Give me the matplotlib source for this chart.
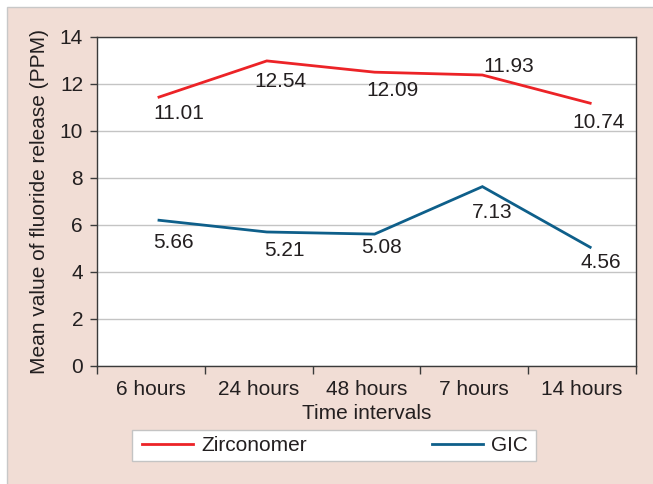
import matplotlib
matplotlib.use("Agg")
import matplotlib.pyplot as plt
from matplotlib.patches import Rectangle

plt.rcParams['font.family'] = ['Liberation Sans', 'DejaVu Sans']

categories = ["6 hours", "24 hours", "48 hours", "7 hours", "14 hours"]
zircon_values = [11.43, 12.97, 12.49, 12.37, 11.17]
gic_values = [6.19, 5.69, 5.60, 7.62, 5.04]
zircon_labels = ["11.01", "12.54", "12.09", "11.93", "10.74"]
gic_labels = ["5.66", "5.21", "5.08", "7.13", "4.56"]

# label offsets in pixels (dx, dy) relative to the points
zircon_offsets = [(20, -16), (14, -21), (18, -18), (26, 9), (8, -19)]
gic_offsets = [(14, -22), (18, -19), (7, -13), (10, -26), (11, -15)]

RED = "#ec2327"
BLUE = "#0e5f8a"
PINK = "#f1ddd5"
TXT = "#231f20"

fig = plt.figure(figsize=(6.53, 4.84), dpi=100)
fig.patch.set_facecolor("white")
bg = Rectangle((6.5 / 653, -0.01), 1.0, 1 - 6.5 / 484 + 0.01,
               transform=fig.transFigure, facecolor=PINK,
               edgecolor="#c8c8c8", linewidth=1.0, zorder=-10)
fig.patches.append(bg)

# legend frame
lf = Rectangle((131.5 / 653, 1 - 461 / 484), (536 - 131.5) / 653, 31 / 484,
               transform=fig.transFigure, facecolor="white",
               edgecolor="#c4c4c4", linewidth=1.0, zorder=-5)
fig.patches.append(lf)

ax = fig.add_axes([97 / 653, 1 - 365.7 / 484, (636 - 97) / 653, (365.7 - 36.7) / 484])
ax.set_zorder(1)
ax.set_facecolor("white")

n = len(categories)
shift = 0.075
xs = [i + 0.5 + shift for i in range(n)]

ax.plot(xs, zircon_values, color=RED, lw=2.0, solid_joinstyle="miter", label="Zirconomer", zorder=3)
ax.plot(xs, gic_values, color=BLUE, lw=2.0, solid_joinstyle="miter", label="GIC", zorder=3)

for x, y, t, (dx, dy) in zip(xs, zircon_values, zircon_labels, zircon_offsets):
    ax.annotate(t, (x, y), xytext=(dx, dy), textcoords="offset pixels",
                ha="center", va="center", fontsize=15, color=TXT, zorder=4)
for x, y, t, (dx, dy) in zip(xs, gic_values, gic_labels, gic_offsets):
    ax.annotate(t, (x, y), xytext=(dx, dy), textcoords="offset pixels",
                ha="center", va="center", fontsize=15, color=TXT, zorder=4)

ax.set_xlim(0, n)
ax.set_ylim(0, 14)
ax.set_yticks(range(0, 15, 2))
ax.set_xticks(range(0, n + 1))
ax.set_xticklabels([])
ax.set_xticks([i + 0.5 for i in range(n)], minor=True)
ax.set_xticklabels(categories, minor=True)
ax.tick_params(axis="x", which="major", direction="out", length=6, width=1, color="#3a3a3a")
ax.tick_params(axis="x", which="minor", length=0, pad=10, labelsize=15, labelcolor=TXT)
ax.tick_params(axis="y", direction="out", length=5, width=1, color="#3a3a3a", pad=5,
               labelsize=15, labelcolor=TXT)

ax.grid(axis="y", color="#c4c4c4", lw=1.0, zorder=0)
ax.set_axisbelow(True)
for s in ax.spines.values():
    s.set_color("#3a3a3a")
    s.set_linewidth(1.0)

ax.set_xlabel("Time intervals", fontsize=15, color=TXT, labelpad=4)
ax.set_ylabel("Mean value of fluoride release (PPM)", fontsize=15, color=TXT, labelpad=8)

leg = fig.legend(loc="center", bbox_to_anchor=(335 / 653, 1 - 445.5 / 484), ncol=2,
                 fontsize=15, frameon=False, handlelength=2.45,
                 handletextpad=0.4, columnspacing=6.0, borderpad=0.25,
                 borderaxespad=0)
leg.set_zorder(5)
for t in leg.get_texts():
    t.set_color(TXT)

fig.savefig("out.png", dpi=100, facecolor=fig.get_facecolor())
